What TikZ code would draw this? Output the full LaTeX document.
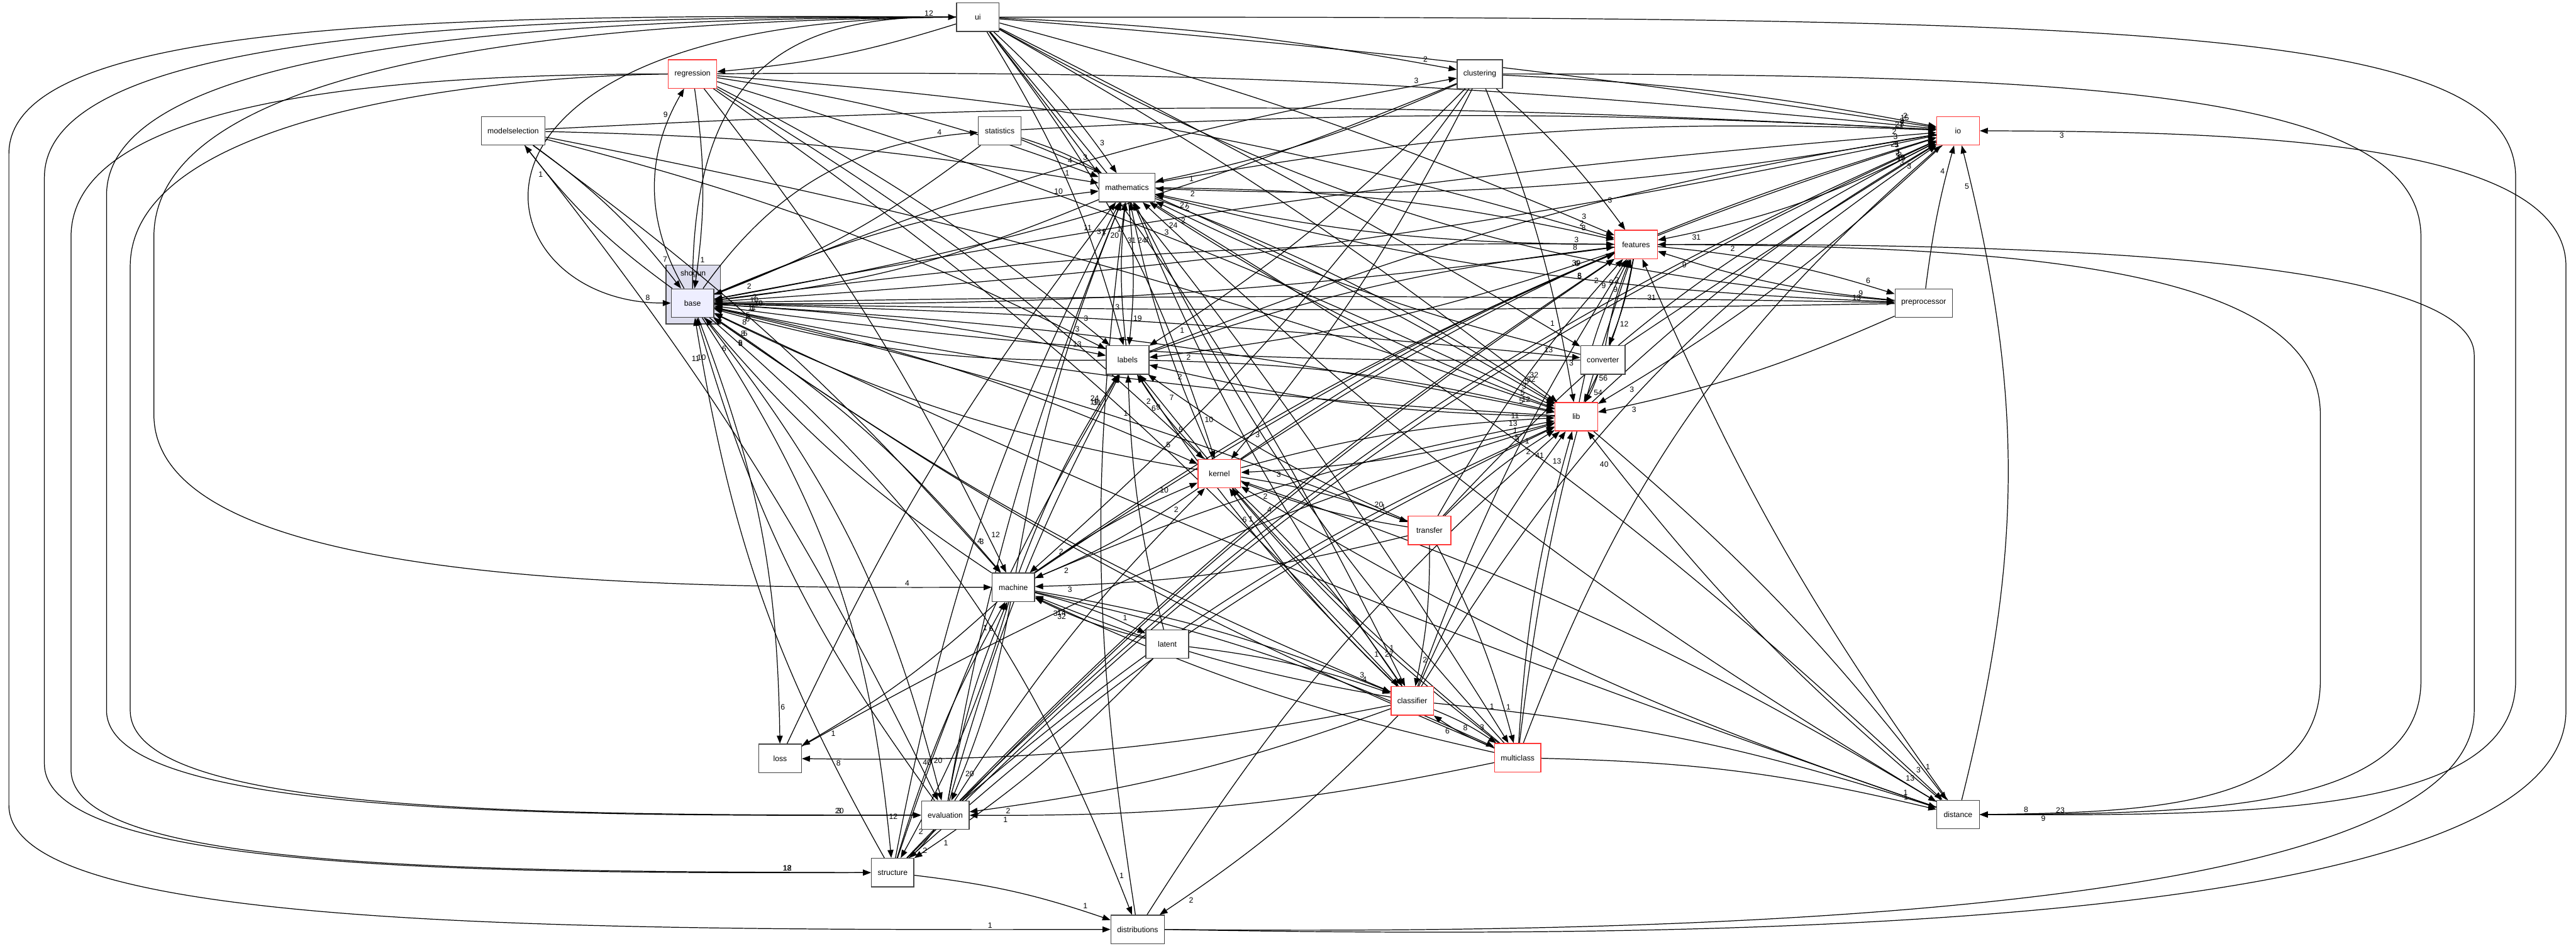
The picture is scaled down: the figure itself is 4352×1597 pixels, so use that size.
\documentclass[tikz,border=0pt]{standalone}
\usepackage{fontspec}
\setmainfont{Liberation Sans}
\usetikzlibrary{arrows.meta}
\pgfdeclarelayer{bg}
\pgfdeclarelayer{edges}
\pgfsetlayers{bg,edges,main}
\definecolor{boxgray}{HTML}{444444}
\definecolor{boxred}{HTML}{FF3838}
\definecolor{clfill}{HTML}{DDDDEE}
\definecolor{basefill}{HTML}{EEEEFF}
\tikzset{
  box/.style={draw=boxgray, line width=0.15pt, fill=white, minimum width=7.2pt, minimum height=4.8pt,
    inner xsep=1.05pt, inner ysep=0pt, font=\fontsize{1.3}{1.45}\selectfont},
  redbox/.style={box, draw=boxred},
  dep/.style={line width=0.13pt, -{Triangle[length=1.35pt,width=1.0pt]}},
  lab/.style={font=\fontsize{1.3}{1.45}\selectfont, inner sep=0.2pt}
}
\begin{document}
\begin{tikzpicture}[x=0.1pt,y=-0.1pt]
\useasboundingbox (0,0) rectangle (4352,1597);
\begin{pgfonlayer}{bg}
\fill[white] (0,0) rectangle (4352,1597);
\node[draw=boxgray,line width=0.15pt,fill=clfill,minimum width=9.2pt,minimum height=9.9pt,inner sep=0pt] (shogun) at (1171,497.5) {};
\node[font=\fontsize{1.3}{1.45}\selectfont] (shoguntitle) at (1171,463) {shogun};
\end{pgfonlayer}

% nodes
\node[box] (ui) at (1652,29) {ui};
\node[redbox] (reg) at (1170,125) {regression};
\node[box] (clu) at (2500,125) {clustering};
\node[box] (ms) at (867,221) {modelselection};
\node[box] (stat) at (1689,221) {statistics};
\node[redbox] (io) at (3308,221) {io};
\node[box] (math) at (1904,317) {mathematics};
\node[redbox] (feat) at (2764,413) {features};
\node[box,fill=basefill] (base) at (1170,512) {base};
\node[box] (pre) at (3250,512) {preprocessor};
\node[box] (lab) at (1905,608) {labels};
\node[box] (conv) at (2708,608) {converter};
\node[redbox] (lib) at (2663,704) {lib};
\node[redbox] (ker) at (2060,800) {kernel};
\node[redbox] (tra) at (2415,896) {transfer};
\node[box] (mac) at (1712,992) {machine};
\node[box] (lat) at (1972,1088) {latent};
\node[redbox] (cla) at (2386,1184) {classifier};
\node[redbox] (mul) at (2564,1280) {multiclass};
\node[box] (loss) at (1318,1281) {loss};
\node[box] (eva) at (1597,1377) {evaluation};
\node[box] (dist) at (3308,1376) {distance};
\node[box] (str) at (1508,1474) {structure};
\node[box] (distr) at (1922,1570) {distributions};

\begin{pgfonlayer}{edges}
\foreach \src/\tgt/\num/\bnd in {
 ui/reg/4/6, ui/clu/2/4, ui/io/15/2, ui/math/3/6, ui/feat/3/4, ui/pre/9/-12, ui/lab/3/8, ui/lib/32/4,
 ui/ker/10/10, ui/cla/1/6, ui/mul/1/4, ui/conv/1/2,
 base/reg/9/30, base/clu/3/6, base/stat/4/25, base/io/2/3, base/math/10/8, base/feat/3/4, base/pre/13/1,
 base/lab/13/4, base/conv/13/2, base/lib/5/4, base/ker/5/6, base/tra/20/4, base/mac/3/8, base/loss/6/10,
 base/eva/20/12, base/str/12/14, base/distr/1/14, base/ms/1/8,
 reg/base/1/8, clu/base/2/6, ms/base/7/8, stat/base/2/8, io/base/19/4, math/base/10/8, feat/base/11/4,
 pre/base/1/1, lab/base/8/8, lib/base/6/4, ker/base/8/8, mac/base/6/8, cla/base/5/6, mul/base/8/6,
 eva/base/10/10, dist/base/5/3, str/base/11/10, conv/base/5/4,
 io/lib/3/6, io/math/2/6, io/feat/31/8, lib/io/49/6, math/io/21/6, pre/io/4/4, conv/io/14/1, clu/io/2/4,
 reg/io/3/3, ms/io/3/3, stat/io/2/3, lab/io/3/6, ker/io/21/8, tra/io/3/10, mac/io/5/8, cla/io/3/12,
 mul/io/3/14, eva/io/3/10, dist/io/5/-14, str/io/2/10,
 lib/math/24/6, lib/feat/9/8, lib/lab/2/6, lib/ker/3/6, math/lib/32/6, feat/lib/56/8, conv/lib/54/6,
 reg/lib/3/4, clu/lib/3/6, ms/lib/5/4, stat/lib/5/4, lab/lib/12/6, ker/lib/11/6, tra/lib/1/6, mac/lib/13/6,
 cla/lib/41/6, mul/lib/13/6, eva/lib/5/8, dist/lib/40/6, lib/dist/1/6, str/lib/3/8, distr/lib/2/8,
 pre/lib/3/6, loss/lib/1/6,
 math/feat/8/6, math/lab/19/6, feat/math/27/6, reg/math/4/6, clu/math/1/6, ms/math/1/4, stat/math/3/6,
 lab/math/1/6, ker/math/31/6, mac/math/1/6, cla/math/24/6, mul/math/1/8, dist/math/3/6, distr/math/20/8,
 conv/math/2/6, pre/math/2/6, eva/math/1/6, str/math/3/8, loss/math/11/6, math/dist/3/6,
 pre/feat/9/6, feat/pre/6/6, lab/feat/8/6, feat/lab/2/6, conv/feat/2/6, feat/conv/12/6, ker/feat/39/6,
 cla/feat/9/6, mul/feat/9/6, dist/feat/31/6, tra/feat/2/6, clu/feat/3/6, reg/feat/2/6, eva/feat/8/6,
 mac/feat/6/6, str/feat/5/6,
 mac/lab/24/6, cla/lab/6/6, eva/lab/31/6, mul/lab/9/6, tra/lab/7/6, reg/lab/3/6, lat/lab/1/6, ker/lab/2/6,
 str/lab/19/6, clu/lab/1/6, ms/lab/3/6,
 cla/ker/6/6, mul/ker/1/6, ker/tra/1/6, tra/ker/2/6, reg/ker/5/6, dist/ker/4/6, ker/dist/13/6, eva/ker/2/6,
 clu/ker/3/6, ker/mac/2/6, mac/ker/10/6, ker/cla/27/6,
 cla/mac/14/6, mul/mac/32/6, tra/mac/3/6, lat/mac/3/6, eva/mac/6/6, str/mac/1/6, reg/mac/12/6, clu/mac/2/6,
 ms/mac/4/6, mac/lat/1/6, mac/str/2/6, mac/cla/3/6, mac/mul/8/6, mac/eva/20/6, mac/loss/1/6,
 mul/cla/6/6, cla/mul/3/6, tra/cla/2/6, tra/mul/1/6, lat/cla/4/6, cla/dist/1/6, mul/dist/1/6, cla/eva/2/6,
 mul/eva/1/6, ms/eva/40/6, eva/str/2/6, lat/str/1/6, cla/distr/2/6, str/distr/1/6, cla/loss/8/6, reg/cla/1/6}
 {
  \pgfpointdiff{\pgfpointanchor{\src}{center}}{\pgfpointanchor{\tgt}{center}}%
  \pgfgetlastxy{\dx}{\dy}%
  \pgfmathsetmacro{\pp}{max(0.5,1-5.8/veclen(\dx,\dy))}%
  \draw[dep] (\src) to[bend left=\bnd] node[lab,pos=\pp,auto] {\num} (\tgt);
 }

% long edges routed round the left side
\draw[dep] (ui.west) .. controls (700,22) and (15,40) .. (15,260) -- (15,1360)
  .. controls (15,1565) and (900,1572) .. node[lab,pos=0.93,above] {1} (distr.west);
\draw[dep] (ui.west) .. controls (800,26) and (75,60) .. (75,300) -- (75,1290)
  .. controls (75,1470) and (800,1476) .. node[lab,pos=0.93,above] {18} (str.west);
\draw[dep] (ui.west) .. controls (900,30) and (180,80) .. (180,330) -- (180,1200)
  .. controls (180,1375) and (900,1379) .. node[lab,pos=0.93,above] {3} (eva.west);
\draw[dep] (ui.west) .. controls (1000,34) and (260,100) .. (260,400) -- (260,700)
  .. controls (260,990) and (1100,994) .. node[lab,pos=0.92,above] {4} (mac.west);
\draw[dep] (reg.west) .. controls (700,125) and (120,160) .. (120,400) -- (120,1300)
  .. controls (120,1470) and (800,1472) .. node[lab,pos=0.93,above] {12} (str.west);
\draw[dep] (reg.west) .. controls (800,130) and (220,200) .. (220,450) -- (220,1200)
  .. controls (220,1374) and (900,1377) .. node[lab,pos=0.93,above] {20} (eva.west);
\draw[dep] (ui.west) .. controls (700,30) and (800,512) .. node[lab,pos=0.96,above] {8} (base.west);
\draw[dep] (base.north) .. controls (1170,150) and (1300,25) .. node[lab,pos=0.95,above] {12} (ui.west);

% long edges routed round the right side
\draw[dep] (ui.east) .. controls (3600,28) and (4250,40) .. (4250,300) -- (4250,1150)
  .. controls (4250,1376) and (3800,1378) .. node[lab,pos=0.9,above] {23} (dist.east);
\draw[dep] (distr.east) .. controls (3000,1590) and (4335,1560) .. (4335,1200) -- (4335,450)
  .. controls (4335,240) and (3800,222) .. node[lab,pos=0.9,below] {3} (io.east);
\draw[dep] (distr.east) .. controls (2900,1580) and (4180,1540) .. (4180,1200) -- (4180,600)
  .. controls (4180,420) and (3300,412) .. node[lab,pos=0.92,below] {2} (feat.east);
\draw[dep] (clu.east) .. controls (3500,125) and (4090,150) .. (4090,400) -- (4090,1150)
  .. controls (4090,1372) and (3700,1374) .. node[lab,pos=0.9,below] {9} (dist.east);
\draw[dep] (feat.east) .. controls (3400,415) and (3920,450) .. (3920,700) -- (3920,1150)
  .. controls (3920,1370) and (3600,1372) .. node[lab,pos=0.9,above] {8} (dist.east);
\end{pgfonlayer}
\end{tikzpicture}
\end{document}
